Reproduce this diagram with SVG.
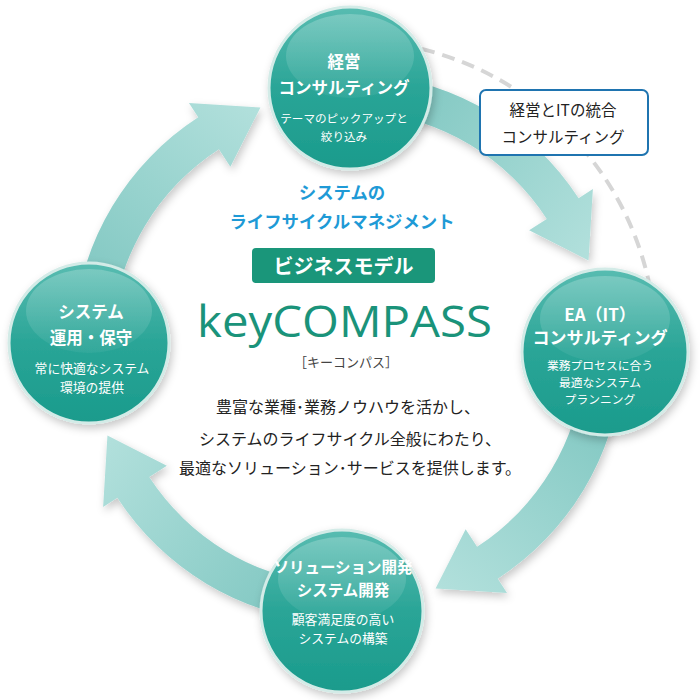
<svg xmlns="http://www.w3.org/2000/svg" width="700" height="700" viewBox="0 0 700 700">
<style>
.jp{font-family:"Noto Sans CJK JP","Noto Sans",sans-serif;}
.ttl{font-family:"Noto Sans CJK JP",sans-serif;font-weight:700;fill:#fff;text-anchor:middle;}
.sub{font-family:"Noto Sans CJK JP",sans-serif;font-weight:400;fill:#fff;text-anchor:middle;}
.node{stroke:#d3ebe7;stroke-width:3;fill:url(#cg);}
.hl{fill:url(#hg);}
.body{font-family:"Noto Sans CJK JP",sans-serif;font-size:16px;fill:#222;text-anchor:middle;}
</style>
<defs>
<linearGradient id="cg" x1="0" y1="0" x2="0" y2="1">
<stop offset="0" stop-color="#58bcb1"/>
<stop offset="0.5" stop-color="#2aa597"/>
<stop offset="1" stop-color="#1a9b8c"/>
</linearGradient>
<linearGradient id="hg" x1="0" y1="0" x2="0" y2="1">
<stop offset="0" stop-color="#fff" stop-opacity="0.22"/>
<stop offset="1" stop-color="#fff" stop-opacity="0.05"/>
</linearGradient>
<linearGradient id="a1g" gradientUnits="userSpaceOnUse" x1="93" y1="326" x2="260" y2="107">
<stop offset="0" stop-color="#7cc5bf"/><stop offset="1" stop-color="#b2e0dc"/>
</linearGradient>
<linearGradient id="a2g" gradientUnits="userSpaceOnUse" x1="370" y1="93" x2="589" y2="260">
<stop offset="0" stop-color="#7cc5bf"/><stop offset="1" stop-color="#b2e0dc"/>
</linearGradient>
<linearGradient id="a3g" gradientUnits="userSpaceOnUse" x1="603" y1="370" x2="436" y2="589">
<stop offset="0" stop-color="#7cc5bf"/><stop offset="1" stop-color="#b2e0dc"/>
</linearGradient>
<linearGradient id="a4g" gradientUnits="userSpaceOnUse" x1="326" y1="603" x2="107" y2="436">
<stop offset="0" stop-color="#7cc5bf"/><stop offset="1" stop-color="#b2e0dc"/>
</linearGradient>
<filter id="sh" x="-20%" y="-20%" width="140%" height="140%">
<feDropShadow dx="2" dy="4" stdDeviation="4" flood-color="#000" flood-opacity="0.22"/>
</filter>
</defs>
<rect width="700" height="700" fill="#fff"/>

<g id="connectors">
<path d="M401.5,44.7 A308,308 0 0 1 649.3,284" fill="none" stroke="#d6d6d6" stroke-width="4" stroke-dasharray="13,8"/>
<g filter="url(#sh)">
<path fill="url(#a1g)" d="M74.05,324.03 A275,275 0 0 1 198.22,117.37 L188.97,103.11 L260.44,107.44 L230.36,166.85 L218.92,149.24 A237,237 0 0 0 111.9,327.34 Z"/>
<path fill="url(#a2g)" d="M371.97,74.05 A275,275 0 0 1 578.63,198.22 L592.89,188.97 L588.56,260.44 L529.15,230.36 L546.76,218.92 A237,237 0 0 0 368.66,111.9 Z"/>
<path fill="url(#a3g)" d="M621.95,371.97 A275,275 0 0 1 497.78,578.63 L507.03,592.89 L435.56,588.56 L465.64,529.15 L477.08,546.76 A237,237 0 0 0 584.1,368.66 Z"/>
<path fill="url(#a4g)" d="M324.03,621.95 A275,275 0 0 1 117.37,497.78 L103.11,507.03 L107.44,435.56 L166.85,465.64 L149.24,477.08 A237,237 0 0 0 327.34,584.1 Z"/>
</g>
</g>

<g id="callout">
<rect x="480" y="90" width="168" height="65" rx="6" fill="#fff" stroke="#1f74b0" stroke-width="2"/>
<text class="jp" x="563" y="116" font-size="15.5" fill="#222" text-anchor="middle">経営とITの統合</text>
<text class="jp" x="563" y="143" font-size="15.5" fill="#222" text-anchor="middle">コンサルティング</text>
</g>

<g id="node-top">
<circle class="node" cx="350" cy="88" r="81" filter="url(#sh)"/>
<ellipse class="hl" cx="350" cy="56" rx="64" ry="42"/>
<text class="ttl" x="344" y="68" font-size="16.5">経営</text>
<text class="ttl" x="344" y="94" font-size="16.5">コンサルティング</text>
<text class="sub" x="344" y="123" font-size="11.6">テーマのピックアップと</text>
<text class="sub" x="344" y="141" font-size="11.6">絞り込み</text>
</g>

<g id="node-right">
<circle class="node" cx="605" cy="352" r="83" filter="url(#sh)"/>
<ellipse class="hl" cx="605" cy="319" rx="65" ry="43"/>
<text class="ttl" x="600" y="321" font-size="17">EA（IT）</text>
<text class="ttl" x="600" y="344" font-size="17">コンサルティング</text>
<text class="sub" x="600" y="370" font-size="11.8">業務プロセスに合う</text>
<text class="sub" x="600" y="387" font-size="11.8">最適なシステム</text>
<text class="sub" x="600" y="404" font-size="11.8">プランニング</text>
</g>

<g id="node-bottom">
<circle class="node" cx="342" cy="611" r="81" filter="url(#sh)"/>
<ellipse class="hl" cx="342" cy="579" rx="64" ry="42"/>
<text class="ttl" x="343" y="573" font-size="15.5">ソリューション開発</text>
<text class="ttl" x="343" y="596" font-size="15.5">システム開発</text>
<text class="sub" x="343" y="624" font-size="12.8">顧客満足度の高い</text>
<text class="sub" x="343" y="643" font-size="12.8">システムの構築</text>
</g>

<g id="node-left">
<circle class="node" cx="89" cy="343" r="80" filter="url(#sh)"/>
<ellipse class="hl" cx="89" cy="311" rx="63" ry="42"/>
<text class="ttl" x="91" y="318" font-size="16.5">システム</text>
<text class="ttl" x="91" y="344" font-size="16.5">運用・保守</text>
<text class="sub" x="92" y="373" font-size="12.8">常に快適なシステム</text>
<text class="sub" x="92" y="392" font-size="12.8">環境の提供</text>
</g>

<g id="center">
<text class="jp" x="342" y="199" font-size="17.4" font-weight="700" fill="#1e9ad6" text-anchor="middle">システムの</text>
<text class="jp" x="342" y="228" font-size="17.4" font-weight="700" fill="#1e9ad6" text-anchor="middle">ライフサイクルマネジメント</text>
<rect x="252" y="248" width="183" height="35" rx="4" fill="#1a967a"/>
<text class="jp" x="343.5" y="274" font-size="20" font-weight="700" fill="#fff" text-anchor="middle">ビジネスモデル</text>
<text x="344.5" y="337" font-family="'Open Sans','Noto Sans',sans-serif" font-size="43" fill="#1a937a" text-anchor="middle" textLength="295" lengthAdjust="spacingAndGlyphs">keyCOMPASS</text>
<text class="jp" x="346" y="367" font-size="13" fill="#444" text-anchor="middle">［キーコンパス］</text>
<text class="body" x="348" y="413">豊富な業種･業務ノウハウを活かし、</text>
<text class="body" x="350" y="445">システムのライフサイクル全般にわたり、</text>
<text class="body" x="350" y="474">最適なソリューション･サービスを提供します。</text>
</g>
</svg>
